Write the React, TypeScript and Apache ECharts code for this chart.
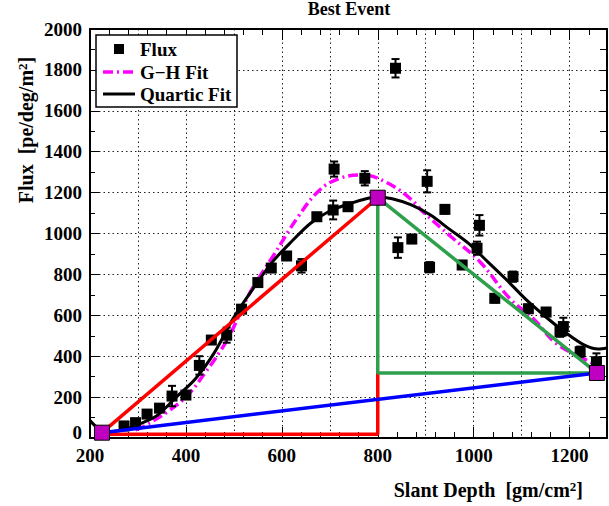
import React, { useEffect, useRef } from 'react';
import * as echarts from 'echarts';

const FONT = 'Liberation Serif, Times New Roman, serif';

// Flux measurements (slant depth, flux, error)
const fluxX = [271, 295, 319, 345, 371, 400, 428, 453, 485, 516, 550, 578, 610, 641, 673, 707, 709, 738, 773, 837, 842, 871, 903, 908, 940, 976, 1007, 1012, 1044, 1082, 1114, 1151, 1180, 1187, 1222, 1256];
const fluxY = [59, 75, 117, 146, 205, 210, 355, 479, 503, 630, 760, 831, 890, 842, 1082, 1115, 1315, 1131, 1270, 1808, 931, 973, 1255, 835, 1118, 846, 928, 1040, 683, 789, 632, 616, 520, 545, 422, 373];
const fluxErr = [10, 10, 10, 10, 50, 10, 45, 15, 37, 15, 15, 15, 15, 33, 15, 46, 37, 20, 35, 45, 50, 20, 54, 25, 20, 20, 32, 50, 20, 25, 20, 20, 25, 43, 25, 41];

// Quartic fit curve samples
const quarticX = [200, 220, 240, 260, 280, 300, 340, 380, 420, 460, 500, 540, 580, 620, 660, 700, 740, 780, 800, 830, 870, 910, 950, 990, 1030, 1070, 1110, 1150, 1190, 1230, 1260, 1278];
const quarticY = [85, 42, 30, 35, 48, 65, 110, 200, 290, 420, 590, 730, 860, 960, 1050, 1110, 1145, 1172, 1178, 1170, 1140, 1090, 1020, 950, 860, 770, 675, 593, 518, 455, 435, 440];

// Gaisser-Hillas fit curve samples
const ghX = [295, 310, 362, 404, 439, 473, 495, 533, 582, 634, 679, 721, 769, 818, 867, 894, 953, 1013, 1075, 1127, 1172, 1235, 1256];
const ghY = [40, 54, 129, 210, 316, 430, 520, 708, 890, 1082, 1213, 1270, 1286, 1250, 1172, 1107, 984, 862, 683, 577, 463, 381, 357];

// Key points (start, maximum, end)
const keyX = [225, 800, 1257];
const keyY = [26, 1175, 318];
const baseY = 18;

function App() {
  const ref = useRef<HTMLDivElement>(null);
  useEffect(() => {
    if (!ref.current) return;
    const chart = echarts.init(ref.current, null, { renderer: 'svg' });

    const flux = fluxX.map((x, i) => [x, fluxY[i], fluxErr[i]]);
    const quartic = quarticX.map((x, i) => [x, quarticY[i]]);
    const gh = ghX.map((x, i) => [x, ghY[i]]);
    const keys = keyX.map((x, i) => [x, keyY[i]]);
    const redDiag = [keys[0], keys[1]];
    const redBase = [[keyX[0], baseY], [keyX[1], baseY], [keyX[1], keyY[2]]];
    const greenTri = [keys[1], [keyX[1], keyY[2]], keys[2], keys[1]];
    const blue = [keys[0], keys[2]];

    const labelStyle = {
      fontFamily: FONT, fontWeight: 'bold' as const, fontSize: 19, color: '#000',
    };
    const axisLine = { show: true, onZero: false, lineStyle: { color: '#000', width: 2 } };
    const xMin = 200, xMax = 1278;

    const lineSeries = (data: number[][], color: string, width: number, z: number, type: any = 'solid', smooth: any = false) => ({
      type: 'line', data, showSymbol: false, symbol: 'none', smooth, z,
      lineStyle: { color, width, type }, silent: true,
    });

    const richTitle = {
      a: { fontFamily: FONT, fontWeight: 'bold', fontSize: 20, verticalAlign: 'bottom', lineHeight: 20 },
      s: { fontFamily: FONT, fontWeight: 'bold', fontSize: 13, verticalAlign: 'top', lineHeight: 13, padding: [0, 0, 9, 0] },
    };
    const txt = (text: string, size: number, extra: any = {}) => ({
      text, fontFamily: FONT, fontWeight: 'bold', fontSize: size, fill: '#000', ...extra,
    });

    chart.setOption({
      animation: false,
      grid: { left: 90, right: 2, top: 29, bottom: 68, containLabel: false },
      xAxis: [
        {
          type: 'value', min: xMin, max: xMax, interval: 200, position: 'bottom',
          axisLine, axisTick: { show: true, inside: true, length: 11, lineStyle: { color: '#000', width: 1 } },
          minorTick: { show: true, splitNumber: 5, length: 6, lineStyle: { color: '#000', width: 1 } },
          axisLabel: { ...labelStyle, margin: 8, showMaxLabel: false, showMinLabel: true, formatter: (v: number) => String(v) },
          splitLine: { show: false },
        },
        {
          type: 'value', min: xMin, max: xMax, interval: 200, position: 'top',
          axisLine, axisTick: { show: true, inside: true, length: 11, lineStyle: { color: '#000', width: 1 } },
          minorTick: { show: true, splitNumber: 5, length: 6, lineStyle: { color: '#000', width: 1 } },
          axisLabel: { show: false }, splitLine: { show: false },
        },
        {
          type: 'value', min: xMin, max: xMax, interval: 100, position: 'bottom',
          axisLine: { show: false }, axisTick: { show: false }, axisLabel: { show: false },
          splitLine: { show: true, lineStyle: { color: '#222', width: 1, type: [1.5, 3] } },
        },
      ],
      yAxis: [
        {
          type: 'value', min: 0, max: 2000, interval: 200, position: 'left',
          axisLine, axisTick: { show: true, inside: true, length: 9, lineStyle: { color: '#000', width: 1 } },
          minorTick: { show: true, splitNumber: 2, length: 5, lineStyle: { color: '#000', width: 1 } },
          axisLabel: {
            ...labelStyle, margin: 8,
            formatter: (v: number) => (v === 0 ? '{z|0}' : String(v)),
            rich: { z: { ...labelStyle, padding: [0, 0, 12, 0] } },
          },
          splitLine: { show: true, lineStyle: { color: '#222', width: 1, type: [1.5, 3] } },
        },
        {
          type: 'value', min: 0, max: 2000, interval: 200, position: 'right',
          axisLine, axisTick: { show: true, inside: true, length: 7, lineStyle: { color: '#000', width: 1 } },
          minorTick: { show: true, splitNumber: 2, length: 7, lineStyle: { color: '#000', width: 1 } },
          axisLabel: { show: false }, splitLine: { show: false },
        },
      ],
      series: [
        lineSeries(gh, '#ff00ff', 3.5, 3, [10, 4, 2, 4], 0.4),
        lineSeries(quartic, '#000000', 3, 3, 'solid', 0.3),
        {
          type: 'custom', z: 4, silent: true,
          encode: { x: 0, y: 1 },
          data: flux,
          renderItem: (params: any, api: any) => {
            const x = api.value(0), y = api.value(1), e = api.value(2);
            const t = api.coord([x, y + e]);
            const b = api.coord([x, y - e]);
            const st = { stroke: '#000', lineWidth: 2 };
            return {
              type: 'group',
              children: [
                { type: 'line', shape: { x1: t[0], y1: t[1], x2: b[0], y2: b[1] }, style: st },
                { type: 'line', shape: { x1: t[0] - 4, y1: t[1], x2: t[0] + 4, y2: t[1] }, style: st },
                { type: 'line', shape: { x1: b[0] - 4, y1: b[1], x2: b[0] + 4, y2: b[1] }, style: st },
              ],
            };
          },
        },
        {
          type: 'scatter', data: flux.map((d) => [d[0], d[1]]), z: 5,
          symbol: 'rect', symbolSize: 11, itemStyle: { color: '#000', opacity: 1 }, silent: true,
        },
        lineSeries(redDiag, '#ff0000', 3.5, 6),
        lineSeries(redBase, '#ff0000', 3.5, 6),
        lineSeries(greenTri, '#2ea04c', 3.5, 6),
        lineSeries(blue, '#0000ff', 3.5, 6),
        {
          type: 'scatter', data: keys, z: 8, symbol: 'rect', symbolSize: 15,
          itemStyle: { color: '#c000c0', borderColor: '#000', borderWidth: 1, opacity: 1 }, silent: true,
        },
      ],
      graphic: [
        {
          type: 'text', x: 349, y: 9, z: 10,
          style: txt('Best Event', 18, { align: 'center', verticalAlign: 'middle' }),
        },
        {
          type: 'text', x: 583, y: 490, z: 10,
          style: {
            text: '{a|Slant Depth  [gm/cm}{s|2}{a|]}', align: 'right', verticalAlign: 'middle', fill: '#000',
            rich: richTitle,
          },
        },
        {
          type: 'text', x: 26, y: 130, rotation: Math.PI / 2, z: 10,
          style: {
            text: '{a|Flux  [pe/deg/m}{s|2}{a|]}', align: 'center', verticalAlign: 'middle', fill: '#000',
            rich: richTitle,
          },
        },
        {
          type: 'group', z: 20,
          children: [
            { type: 'rect', shape: { x: 96, y: 35, width: 141, height: 72 }, style: { fill: '#fff', stroke: '#000', lineWidth: 1.5 }, z: 20 },
            { type: 'rect', shape: { x: 114, y: 44, width: 10, height: 10 }, style: { fill: '#000' }, z: 21 },
            { type: 'text', x: 140, y: 49, z: 21, style: txt('Flux', 19, { verticalAlign: 'middle' }) },
            { type: 'line', shape: { x1: 103, y1: 72, x2: 134, y2: 72 }, z: 21, style: { stroke: '#ff00ff', lineWidth: 3.5, lineDash: [10, 4, 2, 4] } },
            { type: 'text', x: 140, y: 72, z: 21, style: txt('G\u2212H Fit', 19, { verticalAlign: 'middle' }) },
            { type: 'line', shape: { x1: 103, y1: 94, x2: 135, y2: 94 }, z: 21, style: { stroke: '#000', lineWidth: 3 } },
            { type: 'text', x: 140, y: 94, z: 21, style: txt('Quartic Fit', 19, { verticalAlign: 'middle' }) },
          ],
        },
      ],
    });
    return () => chart.dispose();
  }, []);
  return <div ref={ref} style={{ position: 'fixed', left: 0, top: 0, width: 609, height: 506, background: '#fff' }} />;
}

export default App;
